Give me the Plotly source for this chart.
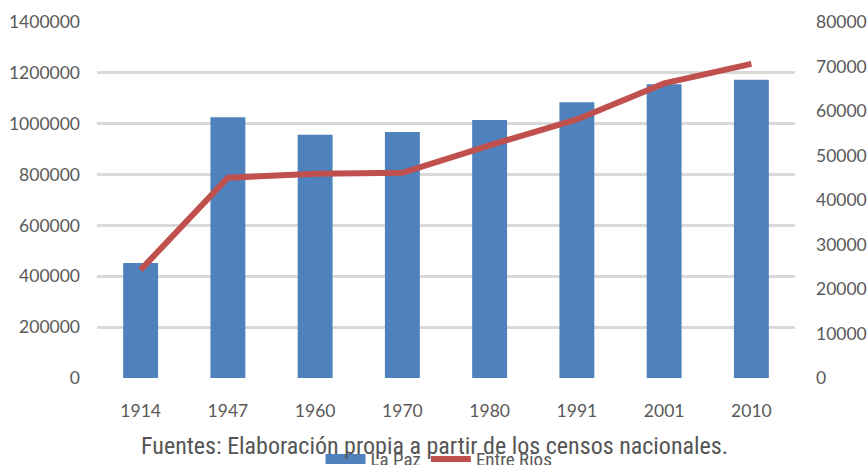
import plotly.graph_objects as go

years = ["1914", "1947", "1960", "1970", "1980", "1991", "2001", "2010"]
la_paz = [452000, 1025000, 957000, 967000, 1015000, 1084000, 1155000, 1173000]
entre_rios = [24300, 45000, 45900, 46100, 52300, 58100, 66200, 70600]

left_ticks = [0, 200000, 400000, 600000, 800000, 1000000, 1200000, 1400000]
right_ticks = [0, 10000, 20000, 30000, 40000, 50000, 60000, 70000, 80000]
caption = "Fuentes: Elaboración propia a partir de los censos nacionales."

tick_font = dict(family="Lato, Carlito, Open Sans, sans-serif", size=17.5, color="#595959")
text_font = "Roboto Condensed, Liberation Sans Narrow, Roboto, sans-serif"

fig = go.Figure()
fig.add_trace(go.Bar(x=years, y=la_paz, name="La Paz", marker=dict(color="#4f81bd", line=dict(width=0)),
                     width=0.4, yaxis="y", showlegend=False))
# legend entry for the bars (wide rectangle like the reference)
fig.add_trace(go.Scatter(x=[None], y=[None], name="La Paz", mode="lines",
                         line=dict(color="#4f81bd", width=13), yaxis="y", showlegend=True))
fig.add_trace(go.Scatter(x=years, y=entre_rios, name="Entre Ríos", mode="lines",
                         line=dict(color="#c0504d", width=6), yaxis="y2"))

fig.update_layout(
    width=867, height=465,
    margin=dict(l=97, r=72, t=22, b=87, autoexpand=False),
    plot_bgcolor="white", paper_bgcolor="white",
    showlegend=True,
    legend=dict(orientation="h", x=0.49, xanchor="center", y=-0.228, yanchor="middle",
                font=dict(family=text_font, size=19, color="#595959"),
                bgcolor="rgba(0,0,0,0)", itemwidth=40),
    xaxis=dict(tickfont=tick_font, showgrid=False, ticks="", ticklabelstandoff=20,
               showline=False, zeroline=False, automargin=False),
    yaxis=dict(range=[0, 1400000], tickvals=left_ticks, ticktext=[str(v) for v in left_ticks],
               tickfont=tick_font, gridcolor="#d9d9d9", gridwidth=3, zeroline=False,
               ticklabelstandoff=16, showline=False, automargin=False),
    yaxis2=dict(range=[0, 80000], tickvals=right_ticks, ticktext=[str(v) for v in right_ticks],
                tickfont=tick_font, overlaying="y", side="right", showgrid=False, zeroline=False,
                ticklabelstandoff=20, showline=False, automargin=False),
    annotations=[dict(text=caption, xref="paper", yref="paper", x=0.484, y=-0.19,
                      xanchor="center", yanchor="middle", showarrow=False,
                      font=dict(family=text_font, size=24, color="#555555"))],
)

fig.write_html("out.html", config={"displayModeBar": False},
               post_script="document.body.style.margin='0';document.body.style.overflow='hidden';")
